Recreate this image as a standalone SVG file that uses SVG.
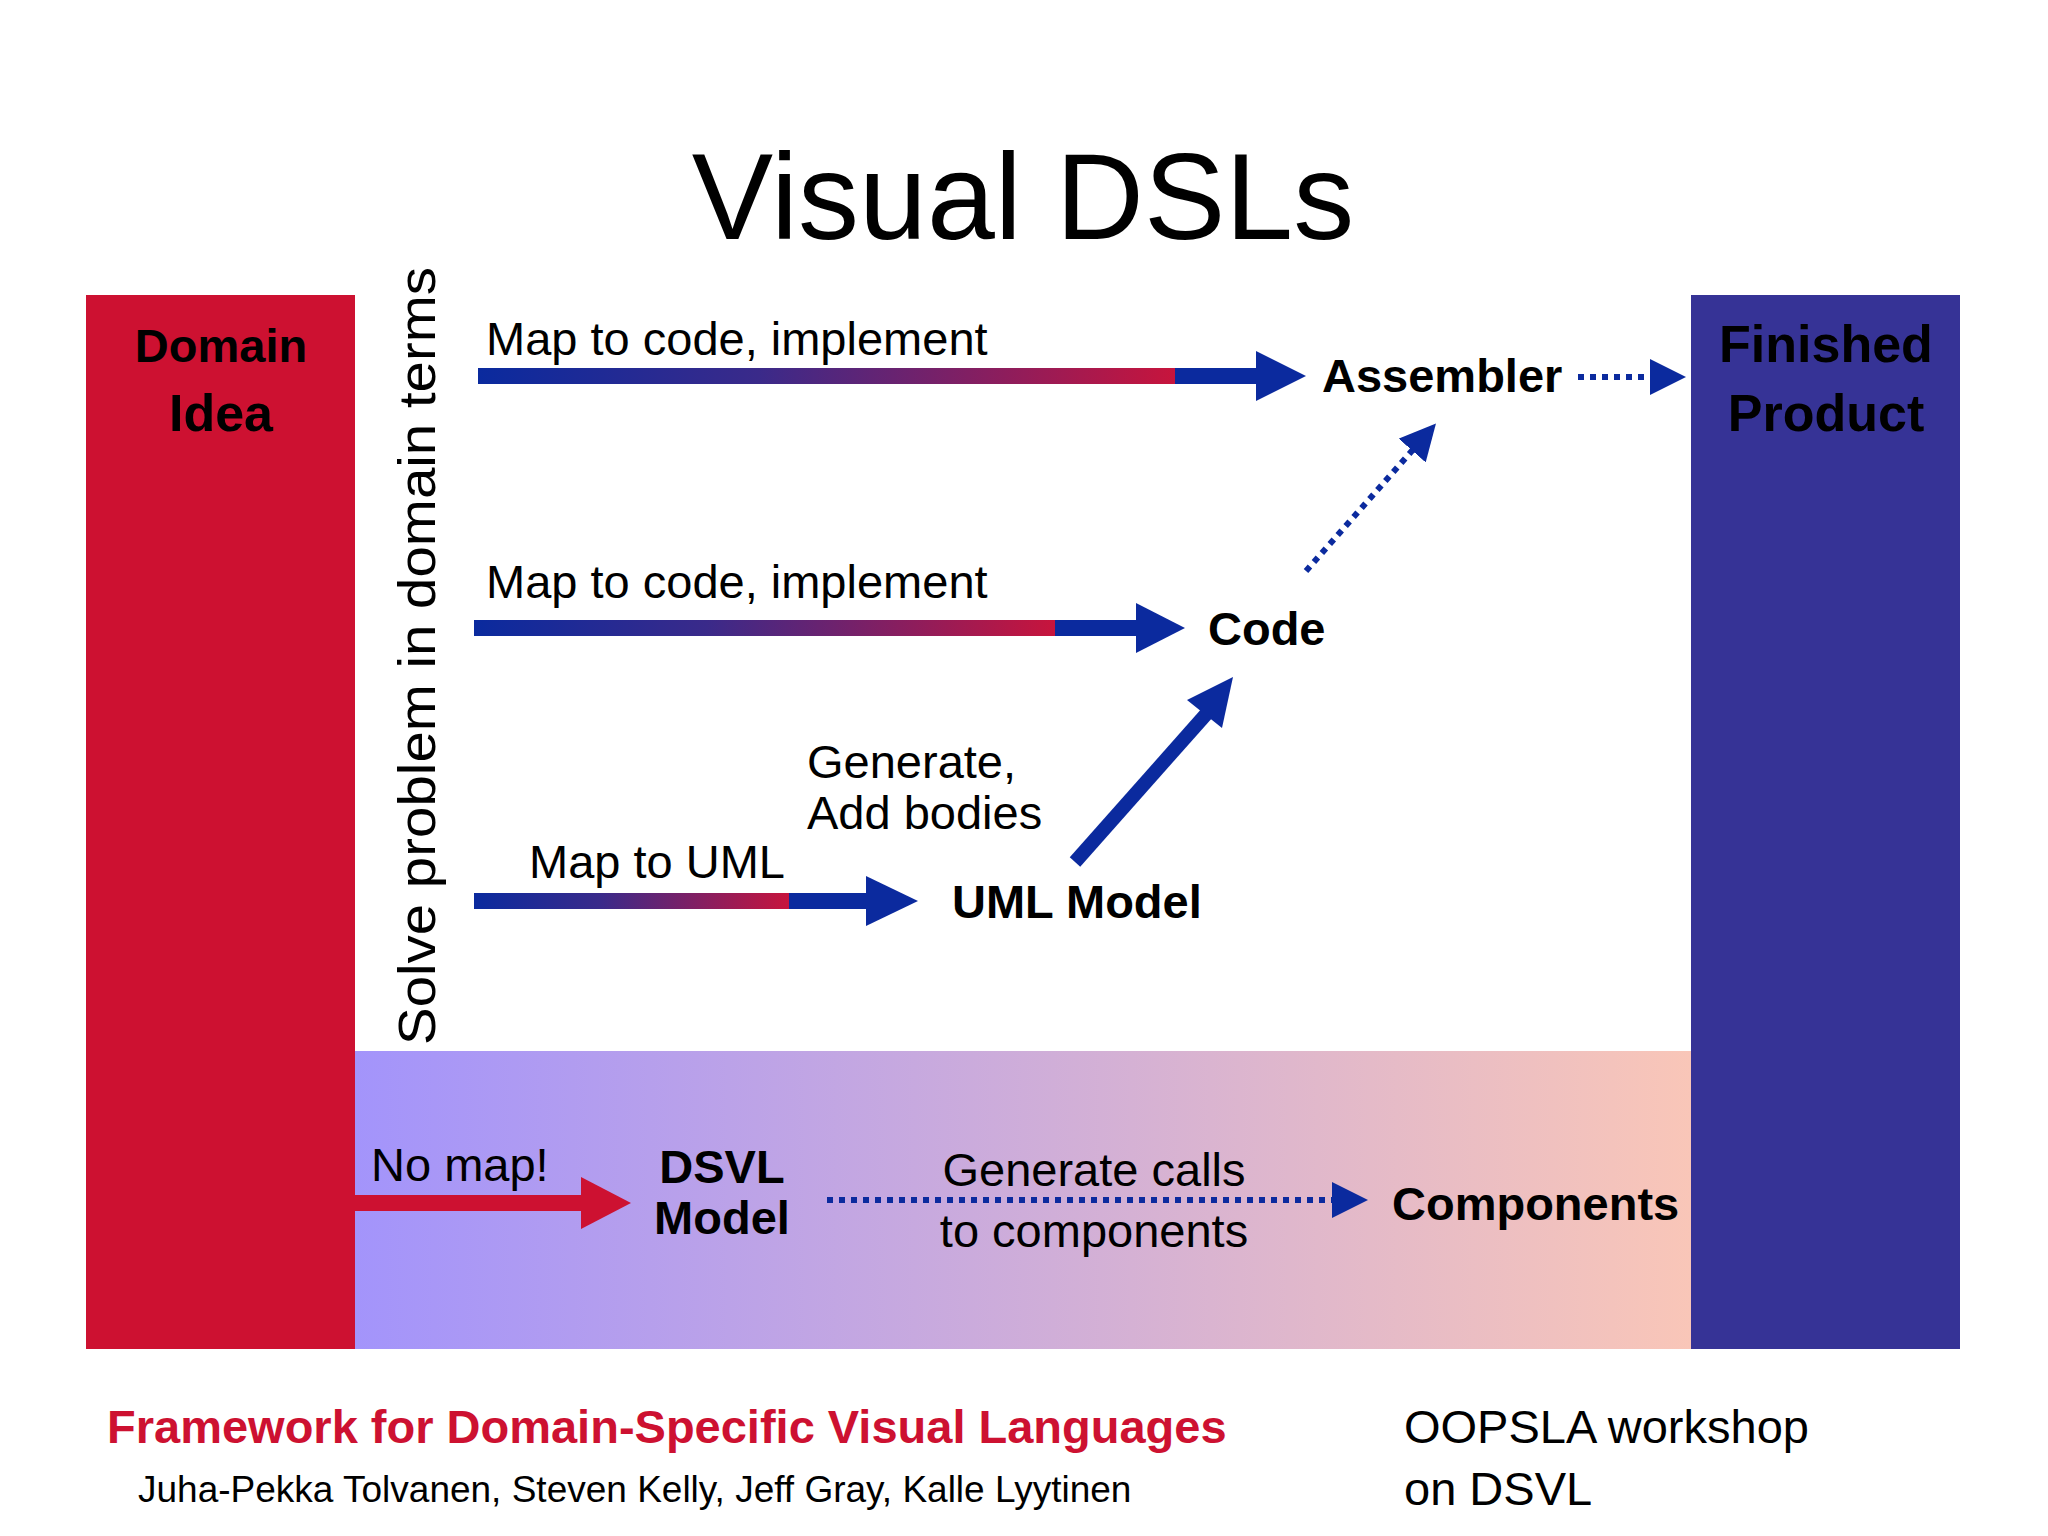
<svg xmlns="http://www.w3.org/2000/svg" width="2048" height="1536" viewBox="0 0 2048 1536">
<defs>
<linearGradient id="band" x1="0" x2="1" y1="0" y2="0"><stop offset="0" stop-color="#a394fb"/><stop offset="1" stop-color="#f9c6b8"/></linearGradient>
<linearGradient id="br" x1="0" x2="1" y1="0" y2="0"><stop offset="0" stop-color="#0a2a9e"/><stop offset="0.4" stop-color="#3a2a8a"/><stop offset="1" stop-color="#c8143c"/></linearGradient>
<marker id="dh" markerWidth="6" markerHeight="6" refX="5" refY="3" orient="auto" markerUnits="strokeWidth"><path d="M0,0 L6,3 L0,6 z" fill="#0b2a9e"/></marker>
</defs>
<style>
text{font-family:"Liberation Sans",Arial,sans-serif;fill:#000}
.b{font-weight:bold}
.l{font-size:47px}
.dot{stroke:#0b2a9e;stroke-width:6;stroke-dasharray:6 6;fill:none}
</style>
<rect width="2048" height="1536" fill="#fff"/>
<text x="1023" y="239" font-size="122" text-anchor="middle">Visual DSLs</text>
<rect x="355" y="1051" width="1336" height="298" fill="url(#band)"/>
<g id="domain"><rect x="86" y="295" width="269" height="1054" fill="#cd1131"/>
<text class="b l" x="221" y="362" text-anchor="middle" font-size="52">Domain</text><text class="b" x="221" y="431" text-anchor="middle" font-size="52">Idea</text></g>
<g id="finished"><rect x="1691" y="295" width="269" height="1054" fill="#363396"/>
<text class="b" x="1826" y="362" text-anchor="middle" font-size="52">Finished</text><text class="b" x="1826" y="431" text-anchor="middle" font-size="52">Product</text></g>
<text x="435" y="1045" font-size="52" transform="rotate(-90 435 1045)" textLength="778" lengthAdjust="spacingAndGlyphs">Solve problem in domain terms</text>
<g id="assembler"><text class="b l" x="1322" y="392">Assembler</text></g>
<g id="code"><text class="b l" x="1208" y="645">Code</text></g>
<g id="uml"><text class="b l" x="952" y="918">UML Model</text></g>
<g id="dsvl"><text class="b l" x="722" y="1183" text-anchor="middle">DSVL</text><text class="b l" x="722" y="1234" text-anchor="middle">Model</text></g>
<g id="components"><text class="b l" x="1392" y="1220">Components</text></g>
<g id="connectors">
<rect x="478" y="368" width="700" height="16" fill="url(#br)"/>
<rect x="1175" y="368" width="85" height="16" fill="#0b2a9e"/>
<path d="M1256,351 L1306,376 L1256,401 z" fill="#0b2a9e"/>
<text class="l" x="486" y="355">Map to code, implement</text>
<rect x="474" y="620" width="583" height="16" fill="url(#br)"/>
<rect x="1055" y="620" width="85" height="16" fill="#0b2a9e"/>
<path d="M1136,603 L1185,628 L1136,653 z" fill="#0b2a9e"/>
<text class="l" x="486" y="598">Map to code, implement</text>
<rect x="474" y="893" width="317" height="16" fill="url(#br)"/>
<rect x="789" y="893" width="80" height="16" fill="#0b2a9e"/>
<path d="M866,876 L918,901 L866,926 z" fill="#0b2a9e"/>
<text class="l" x="529" y="878">Map to UML</text>
<line x1="1075" y1="862" x2="1208" y2="712" stroke="#0b2a9e" stroke-width="14"/>
<path d="M1187,700 L1233,677 L1222,728 z" fill="#0b2a9e"/>
<text class="l" x="807" y="778">Generate,</text><text class="l" x="807" y="829">Add bodies</text>
<rect x="355" y="1195" width="230" height="16" fill="#cd1131"/>
<path d="M581,1177 L631,1203 L581,1229 z" fill="#cd1131"/>
<text class="l" x="371" y="1181">No map!</text>
<line class="dot" x1="1578" y1="377" x2="1680" y2="377" marker-end="url(#dh)"/>
<line class="dot" x1="1306" y1="571" x2="1432" y2="428" marker-end="url(#dh)"/>
<line class="dot" x1="827" y1="1200" x2="1362" y2="1200" marker-end="url(#dh)"/>
<text class="l" x="1094" y="1186" text-anchor="middle">Generate calls</text>
<text class="l" x="1094" y="1247" text-anchor="middle">to components</text>
</g>
<text class="b l" x="107" y="1443" fill="#cd1131" style="fill:#cd1131">Framework for Domain-Specific Visual Languages</text>
<text x="138" y="1502" font-size="37">Juha-Pekka Tolvanen, Steven Kelly, Jeff Gray, Kalle Lyytinen</text>
<text class="l" x="1404" y="1443">OOPSLA workshop</text>
<text class="l" x="1404" y="1505">on DSVL</text>
</svg>
